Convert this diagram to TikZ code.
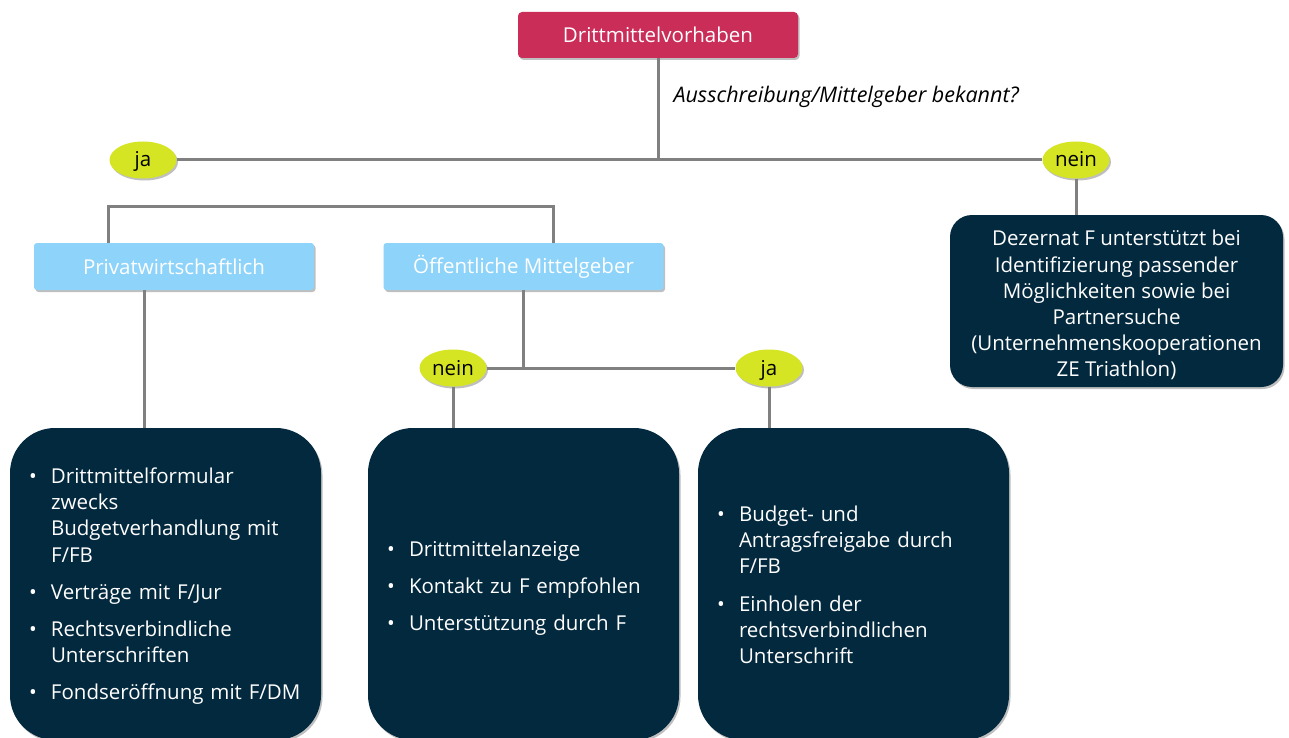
\documentclass[tikz,border=0pt]{standalone}
\usepackage{fontspec}
\setmainfont{Open Sans}
\usetikzlibrary{shapes.geometric,shadows}
\definecolor{redbox}{HTML}{C92D58}
\definecolor{bluebox}{HTML}{8ED3F9}
\definecolor{darkbox}{HTML}{03293F}
\definecolor{lime}{HTML}{D6E523}
\definecolor{conngray}{HTML}{808080}
\newlength\bind
\setlength\bind{23pt}
\newcommand\bul[1]{\par\hangindent=\bind\hangafter=1\noindent\hbox to\bind{\hspace{1pt}\textbullet\hfil}#1\par}
\newcommand\bgap{\vspace{11pt}}
\begin{document}
\begin{tikzpicture}[x=1pt,y=-1pt,
  font=\fontsize{20.5}{26.2}\selectfont,
  shad/.style={drop shadow={shadow xshift=1.5pt,shadow yshift=-2pt,opacity=0.25,fill=black}},
  topbox/.style={shad,fill=redbox,text=white,rounded corners=4pt,minimum width=280pt,minimum height=46pt,inner sep=0pt},
  lbox/.style={shad,fill=bluebox,text=white,rounded corners=3pt,minimum width=280pt,minimum height=47pt,inner sep=0pt},
  ell/.style={shad,ellipse,fill=lime,text=black,minimum width=67pt,minimum height=37pt,inner sep=0pt,text height=14pt,text depth=0pt},
  dbox/.style={shad,fill=darkbox,text=white,rounded corners=45pt,text width=275pt,inner xsep=18pt,inner ysep=0pt,minimum height=312pt,align=left},
  dezbox/.style={shad,fill=darkbox,text=white,rounded corners=22pt,minimum width=333pt,minimum height=172pt,inner sep=0pt,align=center},
  conn/.style={draw=conngray,line width=3pt}]
\useasboundingbox (0,0) rectangle (1289,738);
\clip (0,0) rectangle (1289,738);
\fill[white] (0,0) rectangle (1289,738);

\node[topbox] (top) at (658,35) {Drittmittelvorhaben};
\node[ell] (ja1) at (143,160) {ja};
\node[ell] (nein1) at (1076,160) {nein};
\node[lbox] (priv) at (174,266.5) {Privatwirtschaftlich};
\node[lbox] (oeff) at (523.5,266.5) {Öffentliche Mittelgeber};
\node[ell] (nein2) at (453,368) {nein};
\node[ell] (ja2) at (769,368) {ja};
\node[dezbox] (dez) at (1116.5,301) {\rule{0pt}{4pt}\\[-6pt]Dezernat F unterstützt bei\\Identifizierung passender\\Möglichkeiten sowie bei\\Partnersuche\\(Unternehmenskooperationen\\ZE Triathlon)};
\node[dbox] (box1) at (165.5,584) {%
\bul{Drittmittelformular\newline zwecks\newline Budgetverhandlung mit\newline F/FB}\bgap
\bul{Verträge mit F/Jur}\bgap
\bul{Rechtsverbindliche\newline Unterschriften}\bgap
\bul{Fondseröffnung mit F/DM}\kern6pt};
\node[dbox] (box2) at (523.5,584) {%
\bul{Drittmittelanzeige}\bgap
\bul{Kontakt zu F empfohlen}\bgap
\bul{Unterstützung durch F}\kern2pt};
\node[dbox] (box3) at (853.5,584) {%
\bul{Budget- und\newline Antragsfreigabe durch\newline F/FB}\bgap
\bul{Einholen der\newline rechtsverbindlichen\newline Unterschrift}\kern9pt};

\node[anchor=west,font=\fontsize{21.5}{26}\selectfont\itshape] (q) at (670,97) {Ausschreibung/Mittelgeber bekannt?};

\coordinate (b1) at (108,206);
\coordinate (b2) at (553,206);
\coordinate (c1) at (144,0);

\draw[conn] (top.south) -- (top.south |- ja1.east);
\draw[conn] (ja1.east) -- (nein1.west);
\draw[conn] (b1 |- priv.north) -- (b1) -- (b2) -- (b2 |- oeff.north);
\draw[conn] (c1 |- priv.south) -- (c1 |- box1.north);
\draw[conn] (oeff.south) -- (oeff.south |- nein2.east);
\draw[conn] (nein2.east) -- (ja2.west);
\draw[conn] (nein2.south) -- (nein2.south |- box2.north);
\draw[conn] (ja2.south) -- (ja2.south |- box3.north);
\draw[conn] (nein1.south) -- (nein1.south |- dez.north);
\end{tikzpicture}
\end{document}
